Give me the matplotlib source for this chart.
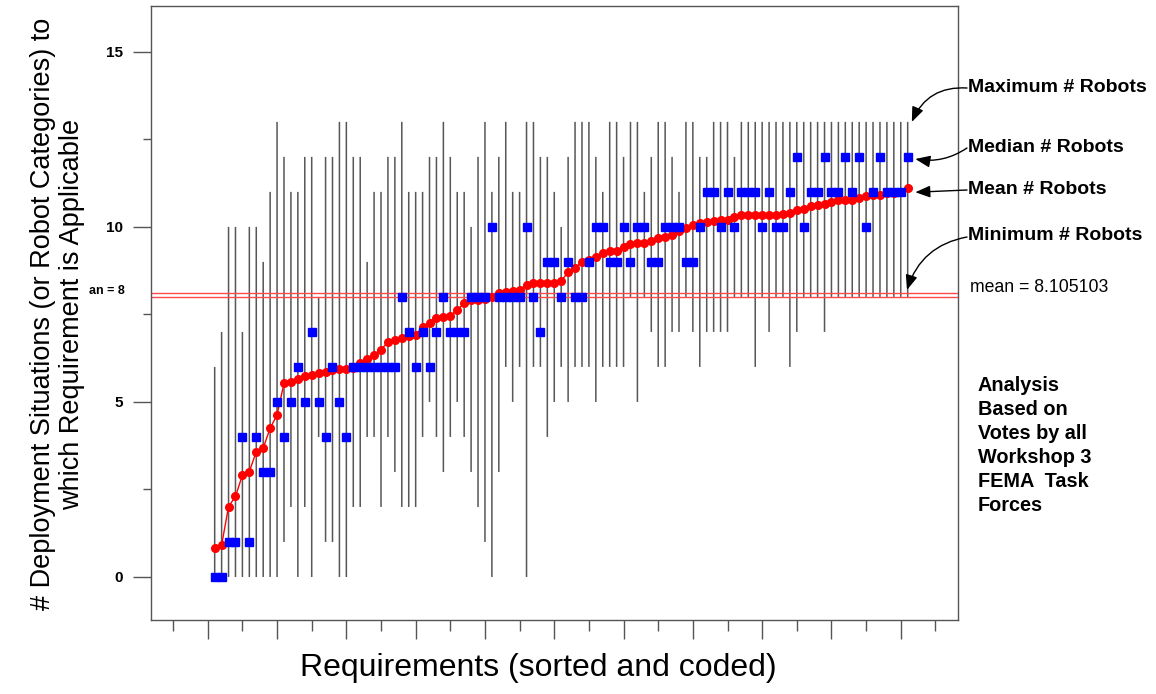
import numpy as np
import matplotlib
matplotlib.use("Agg")
from matplotlib import pyplot as plt
from matplotlib.ticker import FixedLocator, NullFormatter

plt.rcParams['font.family'] = ['Liberation Sans', 'DejaVu Sans']

# per-requirement vote statistics, requirements sorted by mean
max_robots = [6, 7, 10, 10, 7, 10, 10, 9, 11, 13,
              12, 11, 11, 12, 12, 8, 12, 12, 13, 13,
              12, 12, 9, 11, 11, 12, 12, 13, 11, 11,
              11, 12, 12, 13, 12, 11, 11, 10, 12, 13,
              11, 12, 13, 11, 11, 13, 13, 12, 12, 11,
              10, 12, 13, 13, 13, 12, 11, 13, 13, 12,
              13, 13, 11, 12, 13, 13, 12, 11, 13, 13,
              12, 12, 13, 13, 13, 12, 13, 13, 13, 13,
              13, 13, 13, 13, 13, 13, 13, 13, 13, 13,
              13, 13, 13, 13, 13, 13, 13, 13, 13, 13, 13]
min_robots = [0, 0, 0, 0, 0, 0, 0, 0, 0, 0,
              1, 2, 0, 2, 0, 4, 1, 1, 0, 0,
              2, 2, 4, 4, 2, 4, 3, 2, 2, 2,
              4, 5, 4, 3, 4, 5, 4, 3, 2, 1,
              0, 3, 6, 5, 6, 0, 6, 6, 4, 5,
              6, 5, 6, 6, 6, 5, 6, 6, 6, 6,
              8, 5, 8, 7, 6, 6, 7, 7, 8, 7,
              6, 7, 7, 7, 7, 8, 8, 8, 6, 8,
              7, 8, 8, 6, 7, 8, 8, 8, 7, 8,
              8, 8, 8, 8, 8, 8, 8, 8, 8, 8, 8]
median_robots = [0, 0, 1, 1, 4, 1, 4, 3, 3, 5,
                 4, 5, 6, 5, 7, 5, 4, 6, 5, 4,
                 6, 6, 6, 6, 6, 6, 6, 8, 7, 6,
                 7, 6, 7, 8, 7, 7, 7, 8, 8, 8,
                 10, 8, 8, 8, 8, 10, 8, 7, 9, 9,
                 8, 9, 8, 8, 9, 10, 10, 9, 9, 10,
                 9, 10, 10, 9, 9, 10, 10, 10, 9, 9,
                 10, 11, 11, 10, 11, 10, 11, 11, 11, 10,
                 11, 10, 10, 11, 12, 10, 11, 11, 12, 11,
                 11, 12, 11, 12, 10, 11, 12, 11, 11, 11, 12]
mean_robots = [0.82, 0.91, 2.01, 2.30, 2.91, 3.01, 3.58, 3.68, 4.25, 4.63,
               5.53, 5.58, 5.65, 5.75, 5.77, 5.82, 5.86, 5.91, 5.93, 5.93,
               5.97, 6.10, 6.24, 6.33, 6.49, 6.72, 6.77, 6.82, 6.87, 6.91,
               7.15, 7.25, 7.39, 7.44, 7.46, 7.63, 7.82, 7.91, 7.92, 7.93,
               8.01, 8.10, 8.15, 8.16, 8.20, 8.34, 8.39, 8.40, 8.40, 8.41,
               8.45, 8.72, 8.82, 9.01, 9.06, 9.15, 9.25, 9.30, 9.31, 9.44,
               9.51, 9.53, 9.55, 9.61, 9.68, 9.72, 9.77, 9.87, 9.96, 10.06,
               10.10, 10.15, 10.16, 10.20, 10.20, 10.29, 10.33, 10.33, 10.33, 10.33,
               10.34, 10.35, 10.37, 10.41, 10.49, 10.50, 10.60, 10.63, 10.64, 10.72,
               10.77, 10.78, 10.78, 10.83, 10.88, 10.91, 10.91, 10.96, 10.97, 11.01, 11.10]
overall_mean = 8.105103
ref_level = 8

W, H = 1156, 694
def fx(px):
    return px / W
def fy(py):
    return 1 - py / H

fig = plt.figure(figsize=(W / 100, H / 100), dpi=100)
ax = fig.add_axes([fx(151), fy(620), fx(958 - 151), (620 - 6) / H])

x = np.arange(1, len(mean_robots) + 1)
bars = ax.vlines(x, min_robots, max_robots, colors='#575757', linewidth=1.1, zorder=1)
bars.set_snap(False)

ax.axhline(ref_level, color='#ff4a4a', lw=1.0, zorder=2)
ax.axhline(overall_mean, color='#ff4a4a', lw=1.0, zorder=2)

ax.plot(x, mean_robots, '-o', color='red', lw=1.0, ms=5.5, mec='red', zorder=3)
ax.plot(x, median_robots, 's', color='blue', ms=6, mec='blue', ls='none', zorder=4)

ax.set_xlim(-8.19, 108.26)
ax.set_ylim(-1.229, 16.31)

ax.xaxis.set_major_locator(FixedLocator(np.arange(0, 101, 10)))
ax.xaxis.set_minor_locator(FixedLocator(np.arange(-5, 106, 10)))
ax.xaxis.set_major_formatter(NullFormatter())
ax.yaxis.set_major_locator(FixedLocator([0, 5, 10, 15]))
ax.yaxis.set_minor_locator(FixedLocator([2.5, 7.5, 12.5]))
ax.tick_params(axis='x', which='major', length=14, width=1, color='#555555')
ax.tick_params(axis='x', which='minor', length=8, width=1, color='#555555')
ax.tick_params(axis='y', which='major', length=13, width=1, color='#555555',
               pad=7, labelsize=11)
ax.tick_params(axis='y', which='minor', length=6, width=1, color='#555555')
for lab in ax.get_yticklabels():
    lab.set_fontweight('bold')
for sp in ax.spines.values():
    sp.set_color('#555555')
    sp.set_linewidth(1.0)

fig.text(fx(125), fy(291), 'an = 8', ha='right', va='center', fontsize=9, fontweight='bold')
fig.text(fx(970), fy(288), 'mean = 8.105103', ha='left', va='center', fontsize=12.7)

labels = [('Maximum # Robots', 87, (101.6, 13.0), 0.35),
          ('Median # Robots', 147, (102.1, 11.94), -0.2),
          ('Mean # Robots', 189, (102.1, 10.99), 0.0),
          ('Minimum # Robots', 236, (100.9, 8.2), 0.3)]
for txt, py, tip, rad in labels:
    fig.text(fx(968), fy(py), txt, ha='left', va='center', fontsize=14, fontweight='bold')
    ax.annotate('', xy=tip, xycoords='data', xytext=(fx(967), fy(py + 1)),
                textcoords='figure fraction', annotation_clip=False,
                arrowprops=dict(arrowstyle='-|>,head_length=0.5,head_width=0.2',
                                connectionstyle='arc3,rad=%s' % rad, color='black',
                                lw=1.0, mutation_scale=18, shrinkA=0, shrinkB=0))

fig.text(fx(978), fy(376), 'Analysis\nBased on\nVotes by all\nWorkshop 3\nFEMA  Task\nForces',
         ha='left', va='top', fontsize=14.3, fontweight='bold', linespacing=1.33)

fig.text(fx(538), fy(668), 'Requirements (sorted and coded)', ha='center', va='center',
         fontsize=23)
fig.text(fx(58), fy(314),
         '# Deployment Situations (or Robot Categories) to\nwhich Requirement is Applicable',
         ha='center', va='center', rotation=90, fontsize=19.5, linespacing=1.15,
         multialignment='center')

fig.savefig('out.png', dpi=100)
